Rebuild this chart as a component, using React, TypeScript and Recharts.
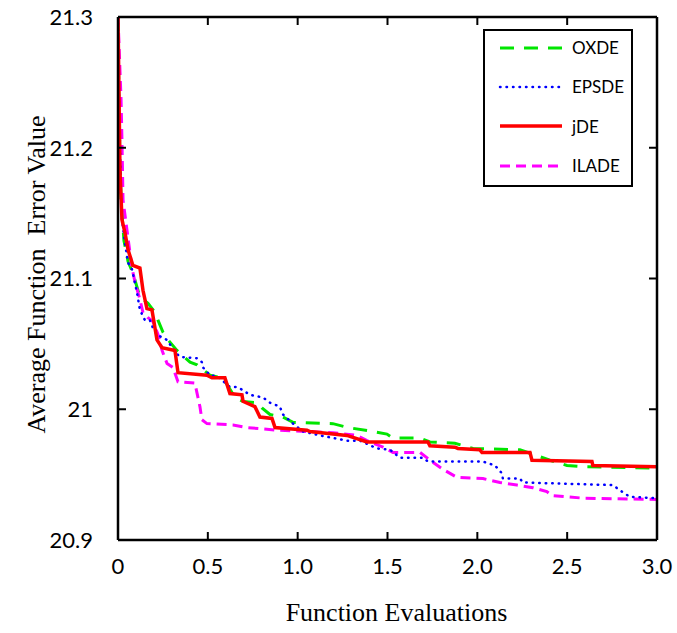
import { Line, LineChart, XAxis, YAxis } from "recharts";

// Values: [function evaluations (x1e5), average error]
const OXDE: [number, number][] = [
  [0, 21.3], [0.006, 21.221], [0.017, 21.16], [0.033, 21.129], [0.056, 21.113], [0.083, 21.104],
  [0.122, 21.086], [0.167, 21.081], [0.206, 21.074], [0.223, 21.068], [0.25, 21.059], [0.273, 21.054],
  [0.328, 21.045], [0.401, 21.036], [0.44, 21.034], [0.512, 21.026], [0.579, 21.024], [0.607, 21.019],
  [0.651, 21.009], [0.696, 21.006], [0.774, 21.005], [0.801, 21.001], [0.846, 20.996], [0.918, 20.994],
  [0.974, 20.99], [1.196, 20.989], [1.28, 20.986], [1.419, 20.983], [1.497, 20.981], [1.53, 20.978],
  [1.681, 20.978], [1.736, 20.975], [1.875, 20.974], [1.976, 20.97], [2.237, 20.969], [2.321, 20.965],
  [2.404, 20.961], [2.499, 20.957], [2.588, 20.956], [3.0, 20.955],
];

const EPSDE: [number, number][] = [
  [0, 21.3], [0.006, 21.237], [0.017, 21.16], [0.022, 21.145], [0.039, 21.127], [0.056, 21.112],
  [0.078, 21.107], [0.106, 21.089], [0.122, 21.076], [0.15, 21.068], [0.178, 21.068], [0.195, 21.062],
  [0.217, 21.057], [0.273, 21.053], [0.317, 21.044], [0.345, 21.04], [0.44, 21.039], [0.467, 21.036],
  [0.473, 21.032], [0.512, 21.026], [0.556, 21.025], [0.623, 21.017], [0.662, 21.017], [0.69, 21.015],
  [0.735, 21.011], [0.807, 21.009], [0.846, 21.005], [0.901, 21.002], [0.918, 20.996], [0.974, 20.989],
  [1.03, 20.983], [1.124, 20.98], [1.274, 20.976], [1.347, 20.976], [1.441, 20.97], [1.514, 20.969],
  [1.569, 20.963], [1.697, 20.963], [1.725, 20.96], [2.031, 20.96], [2.098, 20.957], [2.137, 20.951],
  [2.142, 20.947], [2.237, 20.947], [2.254, 20.944], [2.755, 20.942], [2.794, 20.938], [2.849, 20.933],
  [3.0, 20.932],
];

const JDE: [number, number][] = [
  [0, 21.3], [0.006, 21.237], [0.011, 21.183], [0.022, 21.145], [0.039, 21.135], [0.056, 21.122],
  [0.083, 21.11], [0.122, 21.108], [0.139, 21.091], [0.161, 21.077], [0.189, 21.076], [0.217, 21.053],
  [0.245, 21.047], [0.317, 21.045], [0.334, 21.028], [0.495, 21.026], [0.523, 21.024], [0.595, 21.024],
  [0.623, 21.012], [0.69, 21.011], [0.696, 21.006], [0.762, 21.002], [0.79, 20.994], [0.857, 20.993],
  [0.874, 20.986], [1.052, 20.984], [1.068, 20.983], [1.274, 20.98], [1.386, 20.975], [1.725, 20.975],
  [1.736, 20.972], [1.875, 20.971], [1.892, 20.97], [2.014, 20.969], [2.026, 20.967], [2.293, 20.967],
  [2.304, 20.961], [2.638, 20.96], [2.643, 20.957], [3.0, 20.956],
];

const ILADE: [number, number][] = [
  [0, 21.3], [0.017, 21.237], [0.022, 21.206], [0.028, 21.16], [0.05, 21.137], [0.078, 21.108],
  [0.095, 21.097], [0.122, 21.084], [0.139, 21.074], [0.167, 21.07], [0.195, 21.067], [0.223, 21.057],
  [0.245, 21.045], [0.273, 21.035], [0.306, 21.032], [0.334, 21.021], [0.428, 21.02], [0.456, 21.002],
  [0.467, 20.992], [0.495, 20.989], [0.64, 20.988], [0.718, 20.986], [0.885, 20.984], [1.052, 20.983],
  [1.196, 20.982], [1.33, 20.98], [1.386, 20.976], [1.475, 20.971], [1.53, 20.967], [1.681, 20.967],
  [1.747, 20.96], [1.809, 20.954], [1.886, 20.948], [2.031, 20.947], [2.126, 20.944], [2.22, 20.942],
  [2.309, 20.94], [2.387, 20.937], [2.415, 20.934], [2.588, 20.932], [3.0, 20.931],
];

const X_TICKS = [0, 0.5, 1, 1.5, 2, 2.5, 3];
const X_LABELS = ["0", "0.5", "1.0", "1.5", "2.0", "2.5", "3.0"];
const Y_TICKS = [20.9, 21, 21.1, 21.2, 21.3];
const Y_LABELS = ["20.9", "21", "21.1", "21.2", "21.3"];

// jDE is bound to the top/right axes (same domains) so that those frame axes get drawn
const SERIES = [
  { name: "OXDE", data: OXDE, color: "#00e600", width: 3, dash: "14 10", cap: "butt", frame: false },
  { name: "ILADE", data: ILADE, color: "#ff00ff", width: 3, dash: "10 6", cap: "butt", frame: false },
  { name: "EPSDE", data: EPSDE, color: "#0000ff", width: 2.5, dash: "0.5 6", cap: "round", frame: false },
  { name: "jDE", data: JDE, color: "#ff0000", width: 3.5, dash: undefined, cap: "butt", frame: true },
];
const LEGEND_ORDER = ["OXDE", "EPSDE", "jDE", "ILADE"];

const toRows = (pts: [number, number][]) => pts.map(([x, v]) => ({ x, v }));

const TICK_FONT = "Lato, 'Open Sans', sans-serif";
const SERIF = "'Liberation Serif', 'Times New Roman', serif";

function BottomTick({ x, y, payload }: any) {
  const i = X_TICKS.indexOf(payload.value);
  return (
    <g>
      <line x1={x} x2={x} y1={y} y2={y - 8} stroke="#000" strokeWidth={2} />
      <text x={x} y={y + 34} textAnchor="middle" fontFamily={TICK_FONT} fontSize={22} fill="#000">
        {X_LABELS[i] ?? payload.value}
      </text>
    </g>
  );
}

function TopTick({ x, y }: any) {
  return <line x1={x} x2={x} y1={y} y2={y + 8} stroke="#000" strokeWidth={2} />;
}

function LeftTick({ x, y, payload }: any) {
  const i = Y_TICKS.indexOf(payload.value);
  return (
    <g>
      <line x1={x} x2={x + 8} y1={y} y2={y} stroke="#000" strokeWidth={2} />
      <text x={x - 25} y={y} dy="0.36em" textAnchor="end" fontFamily={TICK_FONT} fontSize={22} fill="#000">
        {Y_LABELS[i] ?? payload.value}
      </text>
    </g>
  );
}

function RightTick({ x, y }: any) {
  return <line x1={x} x2={x - 8} y1={y} y2={y} stroke="#000" strokeWidth={2} />;
}

function LegendBox() {
  return (
    <div
      style={{
        position: "absolute",
        top: 29,
        left: 483,
        border: "2px solid #000",
        background: "#fff",
        width: 150,
        height: 158,
        boxSizing: "border-box",
      }}
    >
      <div style={{ position: "relative", top: -3 }}>
        {LEGEND_ORDER.map((name) => {
          const s = SERIES.find((d) => d.name === name)!;
          return (
            <div key={name} style={{ display: "flex", alignItems: "center", height: 39.3 }}>
              <svg width={66} height={12} style={{ marginLeft: 13 }}>
                <line
                  x1={2}
                  x2={64}
                  y1={6}
                  y2={6}
                  stroke={s.color}
                  strokeWidth={s.width}
                  strokeDasharray={s.dash}
                  strokeLinecap={s.cap as any}
                />
              </svg>
              <span style={{ fontFamily: TICK_FONT, fontSize: 17, marginLeft: 8, color: "#000" }}>{name}</span>
            </div>
          );
        })}
      </div>
    </div>
  );
}

export default function App() {
  return (
    <div style={{ position: "absolute", left: 0, top: 0, width: 677, height: 633, background: "#fff" }}>
      <LineChart width={677} height={633} margin={{ top: 16, right: 19, bottom: 0, left: 0 }}>
        <XAxis
          dataKey="x"
          type="number"
          domain={[0, 3]}
          ticks={X_TICKS}
          allowDataOverflow
          height={93}
          tickSize={0}
          tickMargin={0}
          tickLine={false}
          axisLine={{ stroke: "#000", strokeWidth: 2.5 }}
          tick={BottomTick}
          label={{
            content: ({ viewBox }: any) => (
              <text
                x={viewBox.x + viewBox.width / 2 + 9}
                y={viewBox.y + 81}
                textAnchor="middle"
                fontFamily={SERIF}
                fontSize={26}
                fill="#000"
              >
                Function Evaluations
              </text>
            ),
          }}
        />
        <XAxis
          xAxisId="top"
          orientation="top"
          dataKey="x"
          type="number"
          domain={[0, 3]}
          ticks={X_TICKS}
          allowDataOverflow
          height={1}
          tickSize={0}
          tickMargin={0}
          tickLine={false}
          axisLine={{ stroke: "#000", strokeWidth: 2.5 }}
          tick={TopTick}
        />
        <YAxis
          type="number"
          domain={[20.9, 21.3]}
          ticks={Y_TICKS}
          allowDataOverflow
          width={118}
          tickSize={0}
          tickMargin={0}
          tickLine={false}
          axisLine={{ stroke: "#000", strokeWidth: 2.5 }}
          tick={LeftTick}
          label={{
            content: ({ viewBox }: any) => {
              const cx = 45;
              const cy = viewBox.y + viewBox.height / 2 - 4;
              return (
                <text
                  x={cx}
                  y={cy}
                  transform={`rotate(-90 ${cx} ${cy})`}
                  textAnchor="middle"
                  fontFamily={SERIF}
                  fontSize={26}
                  fill="#000"
                  style={{ whiteSpace: "pre" }}
                >
                  Average Function  Error Value
                </text>
              );
            },
          }}
        />
        <YAxis
          yAxisId="right"
          orientation="right"
          type="number"
          domain={[20.9, 21.3]}
          ticks={Y_TICKS}
          allowDataOverflow
          width={1}
          tickSize={0}
          tickMargin={0}
          tickLine={false}
          axisLine={{ stroke: "#000", strokeWidth: 2.5 }}
          tick={RightTick}
        />
        {SERIES.map((s) => (
          <Line
            key={s.name}
            name={s.name}
            data={toRows(s.data)}
            dataKey="v"
            xAxisId={s.frame ? "top" : 0}
            yAxisId={s.frame ? "right" : 0}
            type="linear"
            stroke={s.color}
            strokeWidth={s.width}
            strokeDasharray={s.dash}
            strokeLinecap={s.cap as any}
            dot={false}
            activeDot={false}
            isAnimationActive={false}
          />
        ))}
      </LineChart>
      <LegendBox />
    </div>
  );
}
